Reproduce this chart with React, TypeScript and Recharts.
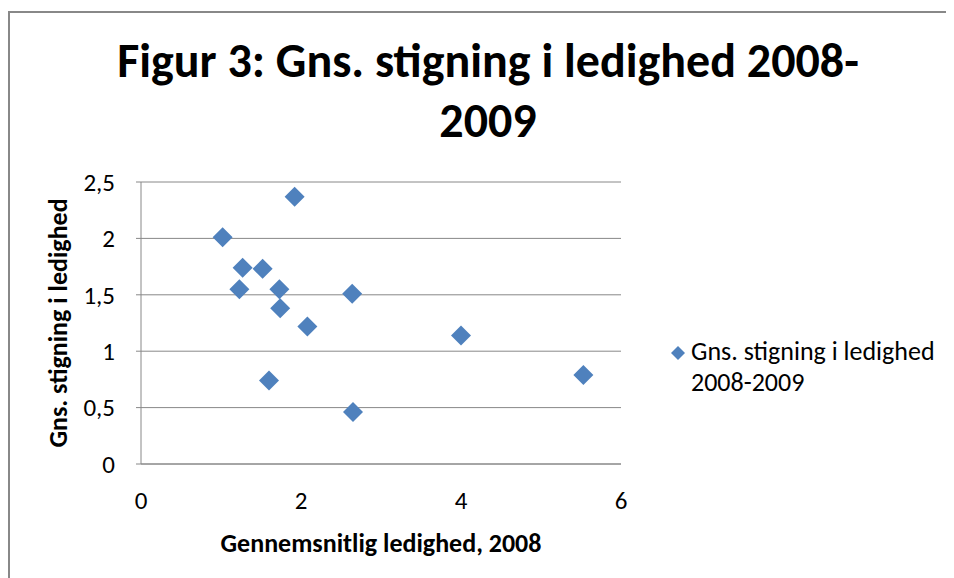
import React from 'react';
import { ScatterChart, Scatter, XAxis, YAxis, CartesianGrid, Legend, Customized } from 'recharts';

const FONT = 'Calibri, Carlito, Lato, sans-serif';

const titleLines = ['Figur 3: Gns. stigning i ledighed 2008-', '2009'];
const seriesName = 'Gns. stigning i ledighed 2008-2009';
const xAxisTitle = 'Gennemsnitlig ledighed, 2008';
const yAxisTitle = 'Gns. stigning i ledighed';

const xValues = [1.02, 1.27, 1.52, 1.23, 1.73, 1.92, 2.64, 1.74, 2.08, 1.6, 2.65, 4.0, 5.53];
const yValues = [2.01, 1.74, 1.73, 1.55, 1.55, 2.37, 1.51, 1.38, 1.22, 0.74, 0.46, 1.14, 0.79];

const xTicks = [0, 2, 4, 6];
const yTicks = [0, 0.5, 1, 1.5, 2, 2.5];

const data = xValues.map((x, i) => ({ x, y: yValues[i] }));

const BLUE = '#4F81BD';
const GRAY = '#888888';

const Diamond = (props: any) => {
  const { cx, cy } = props;
  const r = 10;
  return (
    <polygon
      points={`${cx},${cy - r} ${cx + r},${cy} ${cx},${cy + r} ${cx - r},${cy}`}
      fill={BLUE}
    />
  );
};

const XTick = (props: any) => {
  const { x, y, payload } = props;
  return (
    <text x={x} y={y + 45} textAnchor="middle" fontFamily={FONT} fontSize={25} fill="#000">
      {payload.value}
    </text>
  );
};

const fmt = (v: number) => String(v).replace('.', ',');

const renderLegend = () => (
  <div
    style={{
      position: 'relative',
      fontFamily: FONT,
      fontSize: 26,
      lineHeight: '31px',
      color: '#000',
      paddingLeft: 21,
    }}
  >
    <svg width={14} height={14} style={{ position: 'absolute', left: 1, top: 10 }}>
      <polygon points="7,0 14,7 7,14 0,7" fill={BLUE} />
    </svg>
    <div>{seriesName}</div>
  </div>
);

const Title = () => (
  <g>
    <text x={478} y={64} textAnchor="middle" fontFamily={FONT} fontWeight="bold" fontSize={48} fill="#000">
      {titleLines[0]}
    </text>
    <text x={478} y={124} textAnchor="middle" fontFamily={FONT} fontWeight="bold" fontSize={48} fill="#000">
      {titleLines[1]}
    </text>
  </g>
);

export default function App() {
  return (
    <div style={{ paddingTop: 3 }}>
      <style>{`html { overflow: hidden; }`}</style>
      <div
        style={{
          borderLeft: `2px solid ${GRAY}`,
          borderTop: `2px solid ${GRAY}`,
          width: 944,
          height: 565,
          position: 'relative',
        }}
      >
        <ScatterChart width={944} height={565} margin={{ top: 169, right: 53, bottom: 84, left: 71 }}>
          <CartesianGrid vertical={false} stroke={GRAY} strokeWidth={1} />
          <XAxis
            type="number"
            dataKey="x"
            domain={[0, 6]}
            ticks={xTicks}
            interval={0}
            axisLine={{ stroke: GRAY, strokeWidth: 1 }}
            tickLine={false}
            tickSize={0}
            tickMargin={0}
            height={30}
            tick={<XTick />}
            label={{
              value: xAxisTitle,
              position: 'bottom',
              offset: 40,
              fontFamily: FONT,
              fontWeight: 'bold',
              fontSize: 26,
              fill: '#000',
            }}
          />
          <YAxis
            type="number"
            dataKey="y"
            domain={[0, 2.5]}
            ticks={yTicks}
            interval={0}
            width={60}
            axisLine={{ stroke: GRAY, strokeWidth: 1 }}
            tickLine={{ stroke: GRAY, strokeWidth: 1 }}
            tickSize={5}
            tickMargin={21}
            tickFormatter={fmt}
            tick={{ fontFamily: FONT, fontSize: 25, fill: '#000' }}
            label={{
              value: yAxisTitle,
              angle: -90,
              position: 'left',
              offset: 23,
              fontFamily: FONT,
              fontWeight: 'bold',
              fontSize: 26,
              fill: '#000',
              style: { textAnchor: 'middle' },
            }}
          />
          <Legend
            layout="vertical"
            align="right"
            verticalAlign="middle"
            content={renderLegend}
            wrapperStyle={{ left: 660, top: 323, width: 280, height: 64 }}
          />
          <Scatter
            name={seriesName}
            data={data}
            fill={BLUE}
            shape={<Diamond />}
            isAnimationActive={false}
          />
          <Customized component={Title} />
        </ScatterChart>
      </div>
    </div>
  );
}
